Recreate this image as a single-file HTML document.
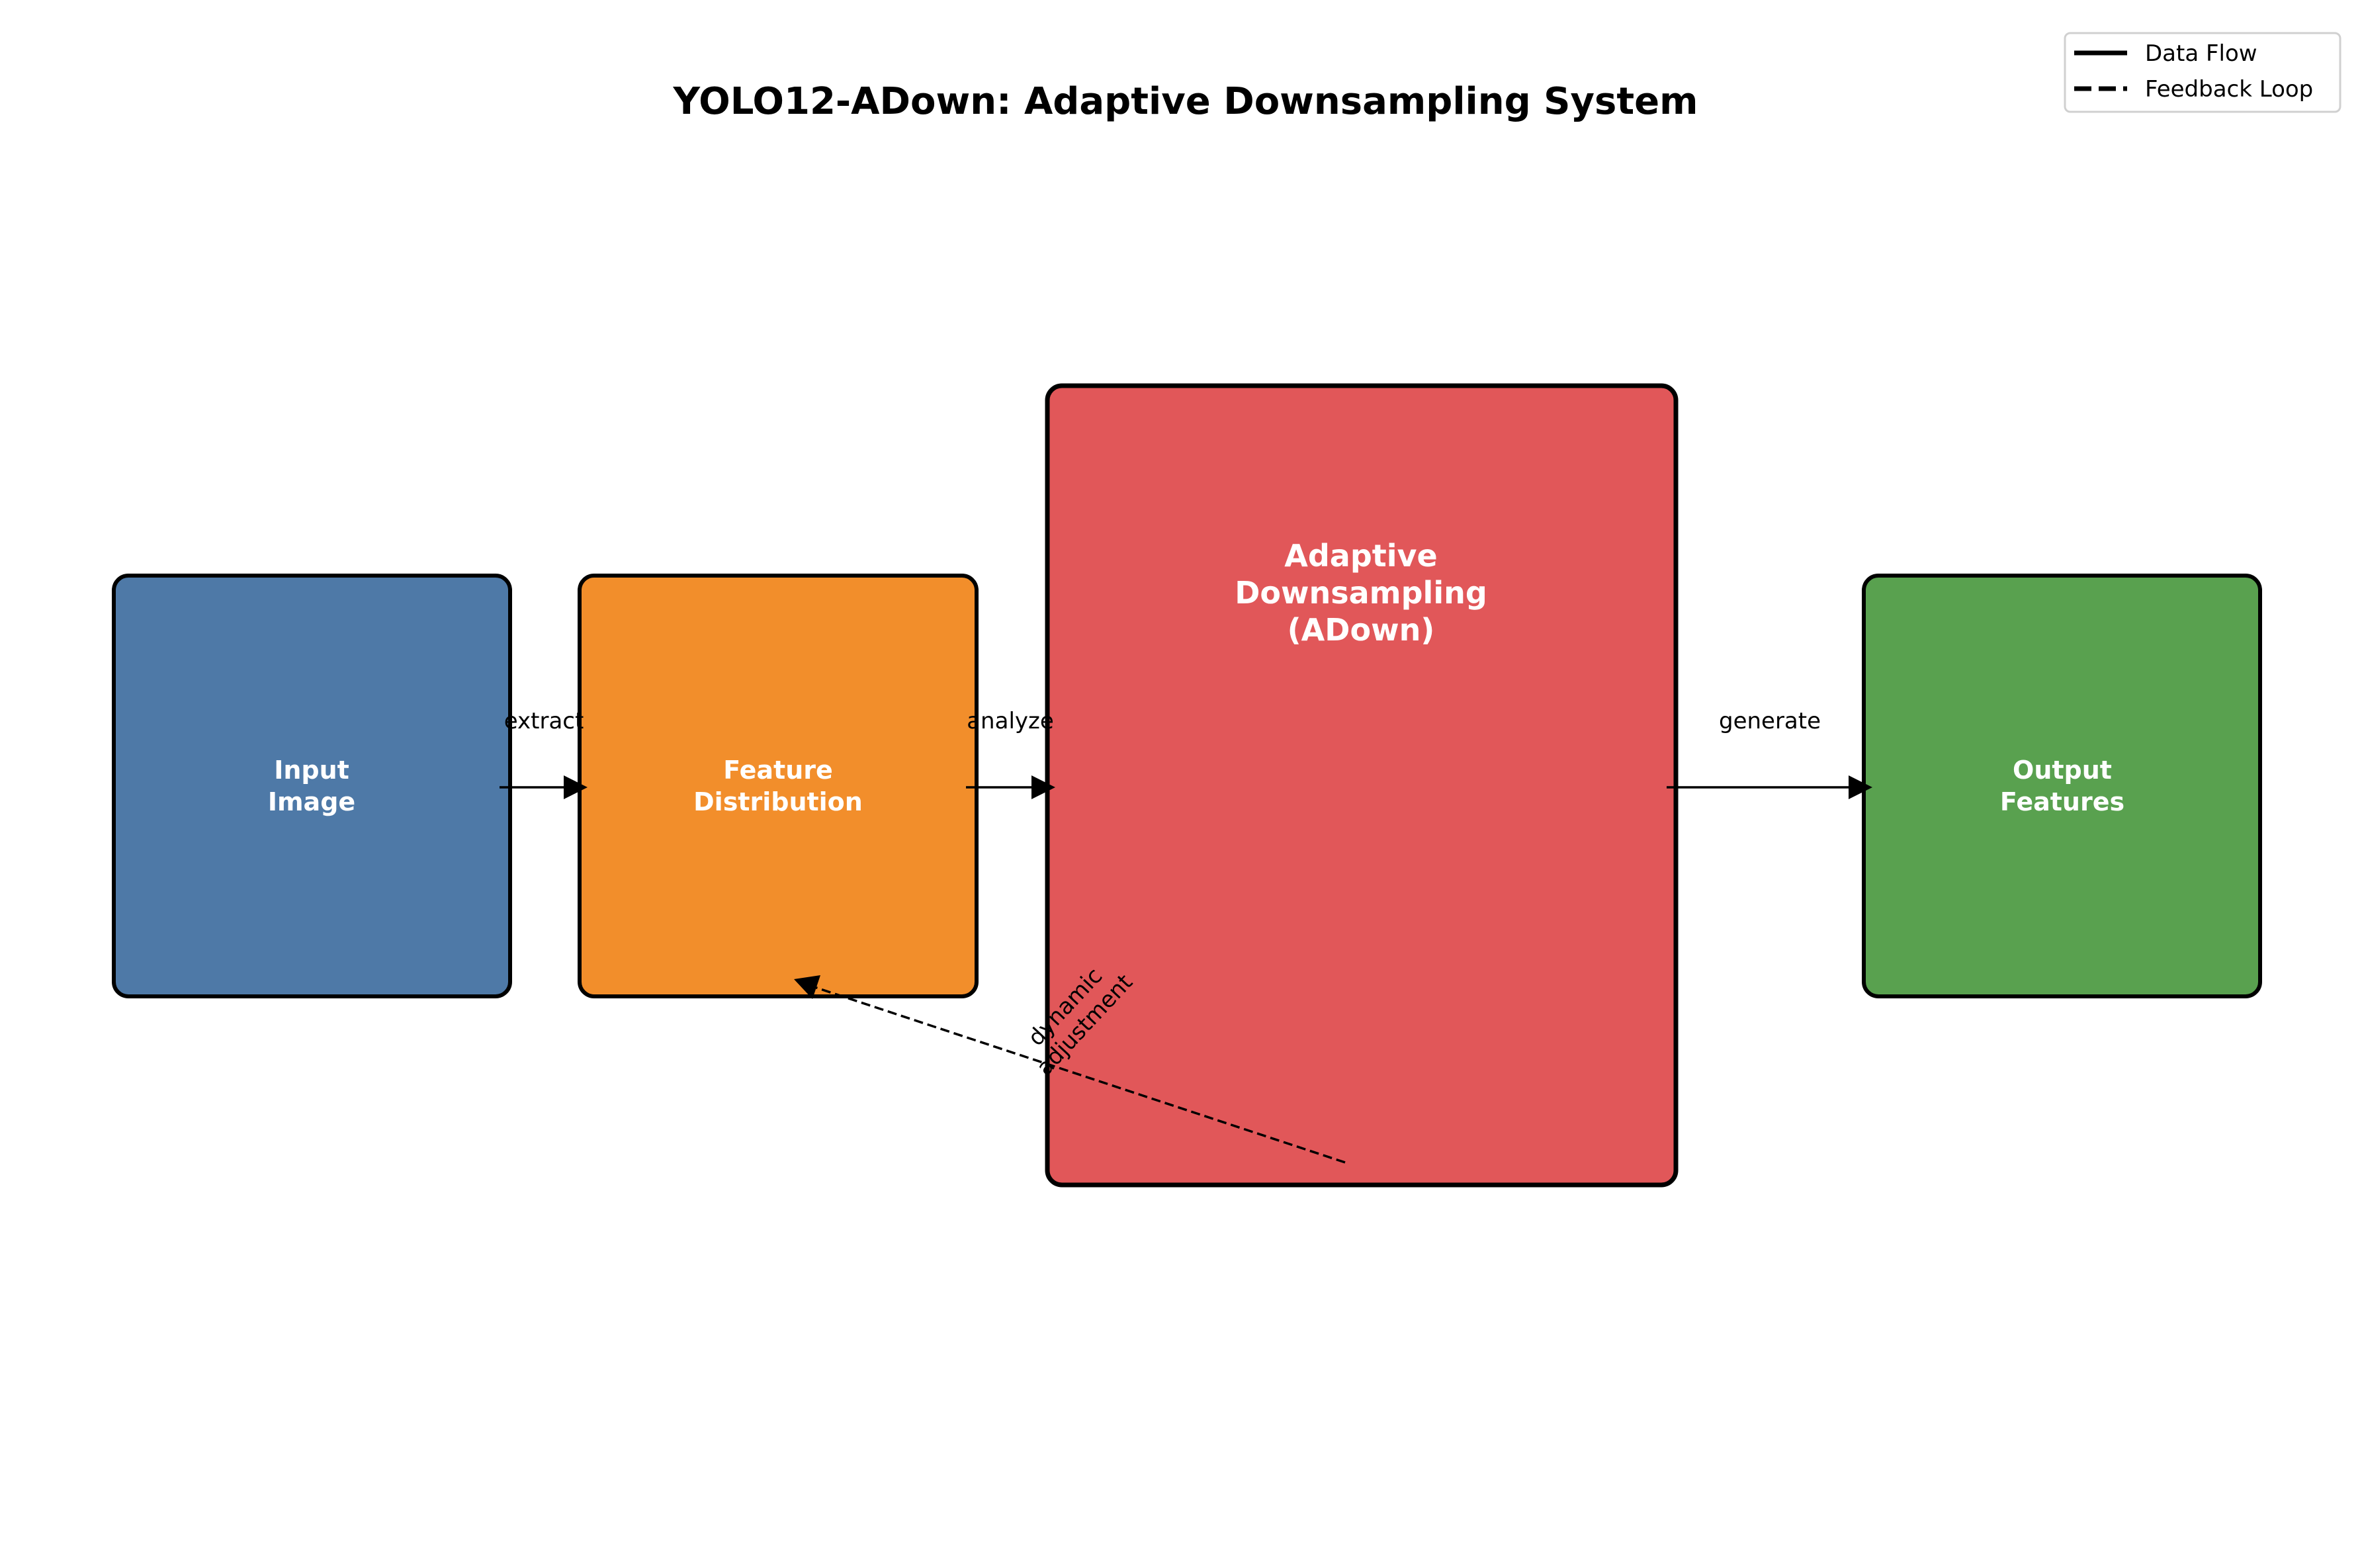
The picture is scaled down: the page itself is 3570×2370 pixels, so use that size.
<!DOCTYPE html>
<html><head><meta charset="utf-8"><style>
html,body{margin:0;padding:0;background:#fff;}
svg{display:block;}
text{font-family:"DejaVu Sans","Liberation Sans",sans-serif;}
</style></head><body>
<svg width="3570" height="2370" viewBox="0 0 3570 2370" xmlns="http://www.w3.org/2000/svg">
<rect width="3570" height="2370" fill="#fff"/>
<text x="1792" y="172" font-size="56" font-weight="bold" text-anchor="middle">YOLO12-ADown: Adaptive Downsampling System</text>

<rect x="3121" y="50" width="416" height="119" rx="8" fill="#fff" stroke="#d0d0d0" stroke-width="3"/>
<line x1="3135" y1="80" x2="3215" y2="80" stroke="#000" stroke-width="7"/>
<text x="3242" y="92" font-size="34">Data Flow</text>
<line x1="3135" y1="134" x2="3215" y2="134" stroke="#000" stroke-width="7" stroke-dasharray="26,11"/>
<text x="3242" y="146" font-size="34">Feedback Loop</text>

<rect x="172" y="870" width="599" height="636" rx="22" fill="#4e79a7" stroke="#000" stroke-width="6"/>
<rect x="876" y="870" width="600" height="636" rx="22" fill="#f28e2b" stroke="#000" stroke-width="6"/>
<rect x="1583" y="583" width="950" height="1208" rx="22" fill="#e15759" stroke="#000" stroke-width="7"/>
<rect x="2817" y="870" width="599" height="636" rx="22" fill="#59a14f" stroke="#000" stroke-width="6"/>

<g font-size="38" font-weight="bold" fill="#fff" text-anchor="middle">
<text x="471" y="1177">Input</text><text x="471" y="1225">Image</text>
<text x="1176" y="1177">Feature</text><text x="1176" y="1225">Distribution</text>
<text x="3117" y="1177">Output</text><text x="3117" y="1225">Features</text>
<text x="2057" y="856" font-size="46">Adaptive</text>
<text x="2057" y="912" font-size="46">Downsampling</text>
<text x="2057" y="968" font-size="46">(ADown)</text>
</g>

<g stroke="#000" stroke-width="3.5">
<line x1="755" y1="1190" x2="860" y2="1190"/>
<line x1="1460" y1="1190" x2="1565" y2="1190"/>
<line x1="2519" y1="1190" x2="2800" y2="1190"/>
</g>
<g fill="#000">
<polygon points="852,1172 888,1190 852,1208"/>
<polygon points="1559,1172 1595,1190 1559,1208"/>
<polygon points="2794,1172 2830,1190 2794,1208"/>
</g>
<g font-size="34" text-anchor="middle">
<text x="822" y="1101">extract</text>
<text x="1527" y="1101">analyze</text>
<text x="2675" y="1101">generate</text>
</g>

<line x1="2033" y1="1757" x2="1225" y2="1490" stroke="#000" stroke-width="3.5" stroke-dasharray="14,7"/>
<polygon points="1200,1480 1240,1474 1228,1510" fill="#000"/>
<g transform="translate(1624,1535) rotate(-47)" font-size="34" text-anchor="middle">
<text x="0" y="-8">dynamic</text>
<text x="0" y="32">adjustment</text>
</g>
</svg>
</body></html>
